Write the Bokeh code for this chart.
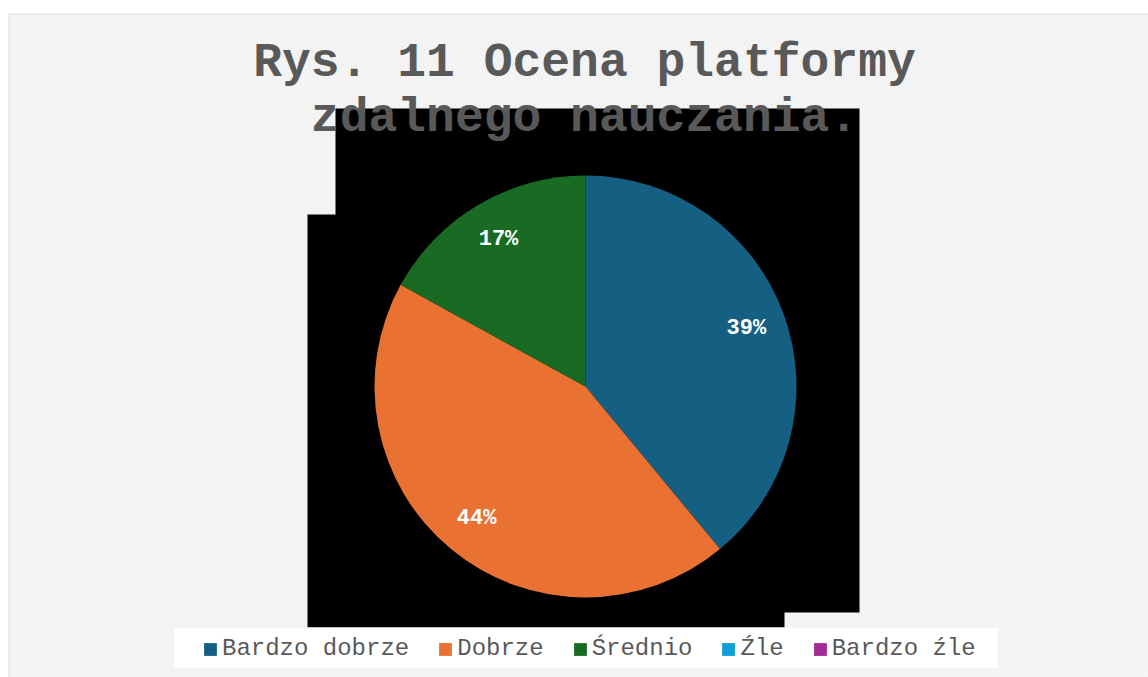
import numpy as np
from bokeh.plotting import figure
from bokeh.models import ColumnDataSource, Range1d, Legend, LegendItem
from bokeh.core.properties import value
from bokeh.embed import file_html
from bokeh.resources import INLINE

# ---- data ----
categories = ["Bardzo dobrze", "Dobrze", "Średnio", "Źle", "Bardzo źle"]
shares = [39, 44, 17, 0, 0]
colors = ["#156082", "#E97132", "#196B24", "#0F9ED5", "#A02B93"]
title_lines = ["Rys. 11 Ocena platformy", "zdalnego nauczania."]

# ---- layout (pixels) ----
W, H = 1148, 677
CX, CY, R = 585, 291, 211
FONT = "Liberation Mono"

p = figure(width=W, height=H, x_range=Range1d(0, W), y_range=Range1d(0, H),
           output_backend="svg", toolbar_location=None,
           x_axis_type=None, y_axis_type=None, min_border=0,
           outline_line_color=None, background_fill_color="white",
           border_fill_color="white")
p.grid.visible = False

# chart area with hatched background and light border
p.quad(left=[8.5], right=[W + 10], bottom=[-10], top=[663.5],
       fill_color="white", line_color="#d9d9d9", line_width=1,
       hatch_pattern="left_diagonal_line", hatch_color="#f1f1f1",
       hatch_weight=3, hatch_scale=8)

# black plot-area artifact behind the pie
p.quad(left=[335, 307], right=[859, 784], top=[569, 463], bottom=[65, 50],
       fill_color="black", line_color=None)

# pie
vals = np.array(shares, dtype=float)
frac = vals / vals.sum()
cum = np.cumsum(frac)
start = np.pi / 2 - 2 * np.pi * (cum - frac)
end = np.pi / 2 - 2 * np.pi * cum
mid = (start + end) / 2
mask = vals > 0
pie_src = ColumnDataSource(dict(
    cat=[c for c, m in zip(categories, mask) if m],
    start=start[mask], end=end[mask],
    color=[c for c, m in zip(colors, mask) if m],
    lx=CX + 0.81 * R * np.cos(mid[mask]),
    ly=CY + 0.81 * R * np.sin(mid[mask]),
    label=[f"{int(v)}%" for v in vals[mask]],
))
p.wedge(x=CX, y=CY, radius=R, start_angle="start", end_angle="end",
        direction="clock", fill_color="color", line_color=None, source=pie_src)
p.text(x="lx", y="ly", text="label", source=pie_src,
       text_font=value(FONT), text_font_style="bold", text_font_size="22px",
       text_color="white", text_align="center", text_baseline="middle")

# title
p.text(x=[584, 584], y=[615, 560], text=title_lines,
       text_font=value(FONT), text_font_style="bold", text_font_size="48px",
       text_color="#595959", text_align="center", text_baseline="middle")

# legend box
p.quad(left=[174], right=[997], bottom=[9], top=[50],
       fill_color="white", line_color=None)

leg_src = ColumnDataSource(dict(cat=categories, color=colors,
                                nx=[np.nan] * len(categories)))
r_leg = p.quad(left="nx", right="nx", top="nx", bottom="nx",
               fill_color="color", line_color=None, source=leg_src)
items = [LegendItem(label=c, renderers=[r_leg], index=i)
         for i, c in enumerate(categories)]
legend = Legend(items=items, orientation="horizontal", location=(202, 15),
                background_fill_alpha=0, border_line_color=None,
                padding=5, spacing=28, label_standoff=4,
                glyph_width=16, glyph_height=16,
                label_text_font=FONT, label_text_font_size="24px",
                label_text_color="#595959")
p.add_layout(legend)

open("out.html", "w").write(file_html(p, INLINE))
